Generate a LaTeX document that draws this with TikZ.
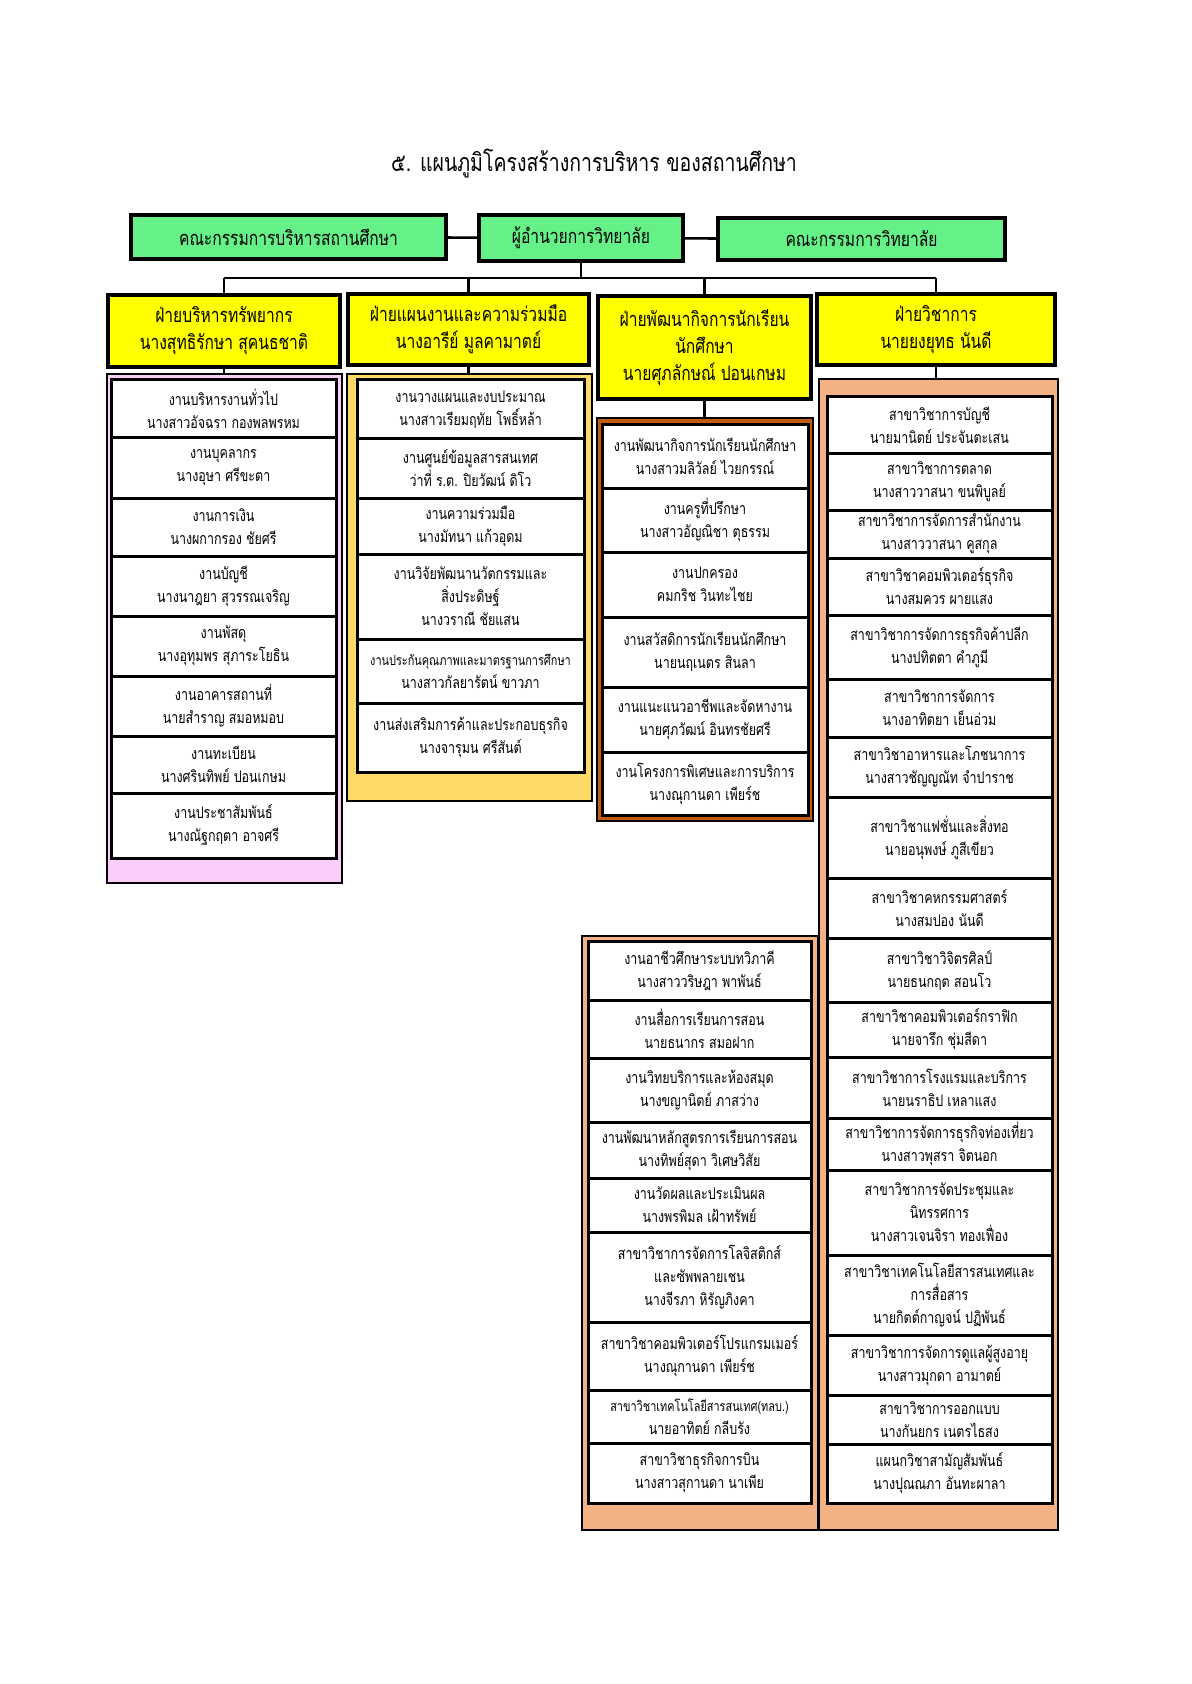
\documentclass[tikz,border=0pt]{standalone}
\usepackage{fontspec}
\newfontfamily\thaifont[Script=Thai,FakeStretch=0.78]{Loma}
\usepackage{tikz}
\definecolor{topgreen}{RGB}{102,240,136}
\definecolor{deptyellow}{RGB}{255,255,0}
\definecolor{grppink}{RGB}{250,204,250}
\definecolor{grpgold}{RGB}{255,217,102}
\definecolor{grpbrown}{RGB}{197,90,17}
\definecolor{grppeach}{RGB}{244,177,131}

\begin{document}
\begin{tikzpicture}[x=1pt,y=-1pt,
  topbox/.style={draw=black,line width=1.6pt,fill=topgreen,inner sep=1pt,align=center,font=\thaifont\fontsize{10}{13}\selectfont},
  deptbox/.style={draw=black,line width=1.6pt,fill=deptyellow,inner sep=1pt,align=center,font=\thaifont\fontsize{10}{13.5}\selectfont},
  grpbox/.style={draw=black,line width=0.9pt,inner sep=0pt},
  jobbox/.style={draw=black,line width=1.5pt,fill=white,inner sep=0pt,align=center,font=\thaifont\fontsize{8}{11.5}\selectfont},
  link/.style={draw=black,line width=1.3pt}]
\useasboundingbox (0,0) rectangle (595.5,842);

\node[font=\thaifont\fontsize{12.5}{15}\selectfont] (title) at (297,82) {๕. แผนภูมิโครงสร้างการบริหาร ของสถานศึกษา};

\node[topbox,minimum width=157.5pt,minimum height=22pt] (top1) at (144.25,118.5) {คณะกรรมการบริหารสถานศึกษา};
\node[topbox,minimum width=102pt,minimum height=23pt] (top0) at (290.5,119) {ผู้อำนวยการวิทยาลัย};
\node[topbox,minimum width=143.5pt,minimum height=21pt] (top2) at (430.75,119.5) {คณะกรรมการวิทยาลัย};

\node[deptbox,minimum width=116pt,minimum height=36pt] (dep1) at (112,165.5) {ฝ่ายบริหารทรัพยากร\\นางสุทธิรักษา สุคนธชาติ};
\node[deptbox,minimum width=120.5pt,minimum height=35.5pt] (dep2) at (234.25,164.75) {ฝ่ายแผนงานและความร่วมมือ\\นางอารีย์ มูลคามาตย์};
\node[deptbox,minimum width=106.5pt,minimum height=51.5pt] (dep3) at (352.25,173.75) {ฝ่ายพัฒนากิจการนักเรียน\\นักศึกษา\\นายศุภลักษณ์ ปอนเกษม};
\node[deptbox,minimum width=119pt,minimum height=35.5pt] (dep4) at (468,164.75) {ฝ่ายวิชาการ\\นายยงยุทธ นันดี};

\node[grpbox,fill=grppink,minimum width=117.5pt,minimum height=254.5pt] (grp1) at (112.25,314.25) {};
\node[grpbox,fill=grpgold,minimum width=122.5pt,minimum height=213.5pt] (grp2) at (234.75,293.75) {};
\node[grpbox,fill=grpbrown,minimum width=108pt,minimum height=201.5pt] (grp3) at (352.5,309.75) {};
\node[grpbox,fill=grppeach,minimum width=118pt,minimum height=297pt] (grp5) at (350,616.5) {};
\node[grpbox,fill=grppeach,minimum width=119.5pt,minimum height=575.5pt] (grp4) at (469.25,477.25) {};

\node[jobbox,minimum width=112.5pt,minimum height=29pt] (job11) at (111.75,204.5) {งานบริหารงานทั่วไป\\นางสาวอัจฉรา กองพลพรหม};
\node[jobbox,minimum width=112.5pt,minimum height=30pt] (job12) at (111.75,234) {งานบุคลากร\\นางอุษา ศรีขะตา};
\node[jobbox,minimum width=112.5pt,minimum height=29pt] (job13) at (111.75,263.5) {งานการเงิน\\นางผกากรอง ชัยศรี};
\node[jobbox,minimum width=112.5pt,minimum height=30pt] (job14) at (111.75,293) {งานบัญชี\\นางนาฎยา สุวรรณเจริญ};
\node[jobbox,minimum width=112.5pt,minimum height=30pt] (job15) at (111.75,323) {งานพัสดุ\\นางอุทุมพร สุภาระโยธิน};
\node[jobbox,minimum width=112.5pt,minimum height=30pt] (job16) at (111.75,353) {งานอาคารสถานที่\\นายสำราญ สมอหมอบ};
\node[jobbox,minimum width=112.5pt,minimum height=28.5pt] (job17) at (111.75,382.25) {งานทะเบียน\\นางศรินทิพย์ ปอนเกษม};
\node[jobbox,minimum width=112.5pt,minimum height=32.5pt] (job18) at (111.75,412.75) {งานประชาสัมพันธ์\\นางณัฐกฤตา อาจศรี};

\node[jobbox,minimum width=113.5pt,minimum height=29.5pt] (job21) at (235.25,204.75) {งานวางแผนและงบประมาณ\\นางสาวเรียมฤทัย โพธิ์หล้า};
\node[jobbox,minimum width=113.5pt,minimum height=29.5pt] (job22) at (235.25,234.25) {งานศูนย์ข้อมูลสารสนเทศ\\ว่าที่ ร.ต. ปิยวัฒน์ ดิโว};
\node[jobbox,minimum width=113.5pt,minimum height=28pt] (job23) at (235.25,263) {งานความร่วมมือ\\นางมัทนา แก้วอุดม};
\node[jobbox,minimum width=113.5pt,minimum height=42.5pt] (job24) at (235.25,298.25) {งานวิจัยพัฒนานวัตกรรมและ\\สิ่งประดิษฐ์\\นางวราณี ชัยแสน};
\node[jobbox,minimum width=113.5pt,minimum height=32pt] (job25) at (235.25,335.5) {{\fontsize{7}{11.5}\selectfont งานประกันคุณภาพและมาตรฐานการศึกษา}\\นางสาวกัลยารัตน์ ขาวภา};
\node[jobbox,minimum width=113.5pt,minimum height=34.5pt] (job26) at (235.25,368.75) {งานส่งเสริมการค้าและประกอบธุรกิจ\\นางจารุมน ศรีสันต์};

\node[jobbox,minimum width=103pt,minimum height=31.5pt] (job31) at (352.5,228.25) {งานพัฒนากิจการนักเรียนนักศึกษา\\นางสาวมลิวัลย์ ไวยกรรณ์};
\node[jobbox,minimum width=103pt,minimum height=32pt] (job32) at (352.5,260) {งานครูที่ปรึกษา\\นางสาวอัญณิชา ตุธรรม};
\node[jobbox,minimum width=103pt,minimum height=32.5pt] (job33) at (352.5,292.25) {งานปกครอง\\คมกริช วินทะไชย};
\node[jobbox,minimum width=103pt,minimum height=35pt] (job34) at (352.5,326) {งานสวัสดิการนักเรียนนักศึกษา\\นายนฤเนตร สินลา};
\node[jobbox,minimum width=103pt,minimum height=32.5pt] (job35) at (352.5,359.75) {งานแนะแนวอาชีพและจัดหางาน\\นายศุภวัฒน์ อินทรชัยศรี};
\node[jobbox,minimum width=103pt,minimum height=31.5pt] (job36) at (352.5,391.75) {งานโครงการพิเศษและการบริการ\\นางณุกานดา เพียร์ช};

\node[jobbox,minimum width=111.5pt,minimum height=29.5pt] (job51) at (349.75,485.25) {งานอาชีวศึกษาระบบทวิภาคี\\นางสาววริษฎา พาพันธ์};
\node[jobbox,minimum width=111.5pt,minimum height=29pt] (job52) at (349.75,514.5) {งานสื่อการเรียนการสอน\\นายธนากร สมอฝาก};
\node[jobbox,minimum width=111.5pt,minimum height=32pt] (job53) at (349.75,545) {งานวิทยบริการและห้องสมุด\\นางขญานิตย์ ภาสว่าง};
\node[jobbox,minimum width=111.5pt,minimum height=28pt] (job54) at (349.75,575) {งานพัฒนาหลักสูตรการเรียนการสอน\\นางทิพย์สุดา วิเศษวิสัย};
\node[jobbox,minimum width=111.5pt,minimum height=27pt] (job55) at (349.75,602.5) {งานวัดผลและประเมินผล\\นางพรพิมล เฝ้าทรัพย์};
\node[jobbox,minimum width=111.5pt,minimum height=45pt] (job56) at (349.75,638.5) {สาขาวิชาการจัดการโลจิสติกส์\\และซัพพลายเชน\\นางจีรภา หิรัญภิงคา};
\node[jobbox,minimum width=111.5pt,minimum height=34pt] (job57) at (349.75,678) {สาขาวิชาคอมพิวเตอร์โปรแกรมเมอร์\\นางณุกานดา เพียร์ช};
\node[jobbox,minimum width=111.5pt,minimum height=26.5pt] (job58) at (349.75,708.25) {{\fontsize{7}{10}\selectfont สาขาวิชาเทคโนโลยีสารสนเทศ(ทลบ.)}\\นายอาทิตย์ กลีบรัง};
\node[jobbox,minimum width=111.5pt,minimum height=30pt] (job59) at (349.75,736.5) {สาขาวิชาธุรกิจการบิน\\นางสาวสุกานดา นาเพีย};

\node[jobbox,minimum width=112.5pt,minimum height=28pt] (job401) at (469.75,212.5) {สาขาวิชาการบัญชี\\นายมานิตย์ ประจันตะเสน};
\node[jobbox,minimum width=112.5pt,minimum height=28.5pt] (job402) at (469.75,240.75) {สาขาวิชาการตลาด\\นางสาววาสนา ขนพิบูลย์};
\node[jobbox,minimum width=112.5pt,minimum height=24pt] (job403) at (469.75,267) {สาขาวิชาการจัดการสำนักงาน\\นางสาววาสนา คูสกุล};
\node[jobbox,minimum width=112.5pt,minimum height=28.5pt] (job404) at (469.75,293.25) {สาขาวิชาคอมพิวเตอร์ธุรกิจ\\นางสมควร ผายแสง};
\node[jobbox,minimum width=112.5pt,minimum height=32pt] (job405) at (469.75,323.5) {สาขาวิชาการจัดการธุรกิจค้าปลีก\\นางปทิตตา คำภูมี};
\node[jobbox,minimum width=112.5pt,minimum height=29pt] (job406) at (469.75,354) {สาขาวิชาการจัดการ\\นางอาทิตยา เย็นอ่วม};
\node[jobbox,minimum width=112.5pt,minimum height=30pt] (job407) at (469.75,383.5) {สาขาวิชาอาหารและโภชนาการ\\นางสาวชัญญณัท จำปาราช};
\node[jobbox,minimum width=112.5pt,minimum height=40.5pt] (job408) at (469.75,418.75) {สาขาวิชาแฟชั่นและสิ่งทอ\\นายอนุพงษ์ ภูสีเขียว};
\node[jobbox,minimum width=112.5pt,minimum height=30pt] (job409) at (469.75,454) {สาขาวิชาคหกรรมศาสตร์\\นางสมปอง นันดี};
\node[jobbox,minimum width=112.5pt,minimum height=32pt] (job410) at (469.75,485) {สาขาวิชาวิจิตรศิลป์\\นายธนกฤต สอนโว};
\node[jobbox,minimum width=112.5pt,minimum height=27.5pt] (job411) at (469.75,514.75) {สาขาวิชาคอมพิวเตอร์กราฟิก\\นายจารึก ชุ่มสีดา};
\node[jobbox,minimum width=112.5pt,minimum height=30.5pt] (job412) at (469.75,543.75) {สาขาวิชาการโรงแรมและบริการ\\นายนราธิป เหลาแสง};
\node[jobbox,minimum width=112.5pt,minimum height=26pt] (job413) at (469.75,572) {สาขาวิชาการจัดการธุรกิจท่องเที่ยว\\นางสาวพุสรา จิตนอก};
\node[jobbox,minimum width=112.5pt,minimum height=42.5pt] (job414) at (469.75,606.25) {สาขาวิชาการจัดประชุมและ\\นิทรรศการ\\นางสาวเจนจิรา ทองเฟื่อง};
\node[jobbox,minimum width=112.5pt,minimum height=40pt] (job415) at (469.75,647.5) {สาขาวิชาเทคโนโลยีสารสนเทศและ\\การสื่อสาร\\นายกิตต์กาญจน์ ปฏิพันธ์};
\node[jobbox,minimum width=112.5pt,minimum height=30pt] (job416) at (469.75,682.5) {สาขาวิชาการจัดการดูแลผู้สูงอายุ\\นางสาวมุกดา อามาตย์};
\node[jobbox,minimum width=112.5pt,minimum height=24.5pt] (job417) at (469.75,709.75) {สาขาวิชาการออกแบบ\\นางกันยกร เนตรไธสง};
\node[jobbox,minimum width=112.5pt,minimum height=29.5pt] (job418) at (469.75,736.75) {แผนกวิชาสามัญสัมพันธ์\\นางปุณณภา อันทะผาลา};

\coordinate (bus) at (0,139);
\draw[link] (top1) -- (top0);
\draw[link] (top0) -- (top2);
\draw[link] (top0.south) -- (top0.south |- bus);
\draw[link] (dep1.north |- bus) -- (dep4.north |- bus);
\draw[link] (dep1.north) -- (dep1.north |- bus);
\draw[link] (dep2.north) -- (dep2.north |- bus);
\draw[link] (dep3.north) -- (dep3.north |- bus);
\draw[link] (dep4.north) -- (dep4.north |- bus);
\draw[link] (dep1.south) -- (dep1.south |- grp1.north);
\draw[link] (dep2.south) -- (dep2.south |- grp2.north);
\draw[link] (dep3.south) -- (dep3.south |- grp3.north);
\draw[link] (dep4.south) -- (dep4.south |- grp4.north);
\end{tikzpicture}
\end{document}
